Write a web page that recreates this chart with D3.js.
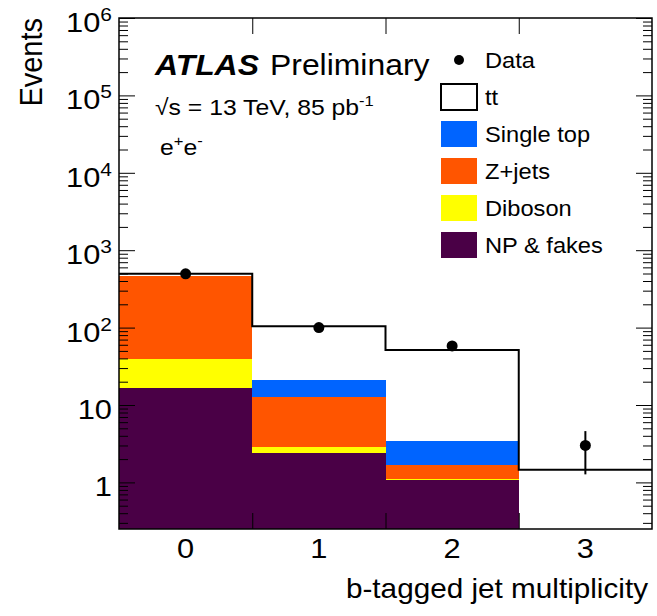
<!DOCTYPE html>
<html>
<head>
<meta charset="utf-8">
<script src="https://cdn.jsdelivr.net/npm/d3@7/dist/d3.min.js"></script>
<style>
  body { margin: 0; background: #fff; }
  text { font-family: "Liberation Sans", Arial, Helvetica, sans-serif; fill: #000; }
</style>
</head>
<body>
<script>
// bins of b-tagged jet multiplicity
var bins = [0, 1, 2, 3];

// data points and their errors
var dataVals = [495, 100, 58, 3];
var dataErrLo = [22, 10, 7.6, 1.73];
var dataErrHi = [22, 10, 7.6, 1.6];

// background stack, bottom to top
var npFakes   = [16.5, 2.4, 1.07, 0.08];
var diboson   = [22.5, 0.47, 0.03, 0.01];
var zjets     = [422, 9.9, 0.57, 0.02];
var singleTop = [1.0, 8.4, 1.72, 0.05];
var ttbar     = [33, 83, 48, 1.3];

var sampleNames = ["NP & fakes", "Diboson", "Z+jets", "Single top", "tt"];
var sampleColors = ["#4a0046", "#ffff00", "#ff5500", "#0064ff", "#ffffff"];

var yMajor = [1, 10, 100, 1000, 10000, 100000, 1000000];

var width = 657, height = 616;
// plot frame edges
var frameL = 119, frameR = 652, frameT = 18, frameB = 529;
var sx = 1.1; // the text in the picture is a bit wide

var svg = d3.select("body").append("svg")
    .attr("width", width)
    .attr("height", height);

var x = d3.scaleLinear().domain([-0.5, 3.5]).range([frameL, frameR]);
var y = d3.scaleLog().domain([0.25, 1e6]).range([frameB, frameT]);

// helper for text with the horizontal stretch
function label(g, px, py, anchor, size) {
  return g.append("text")
    .attr("transform", "translate(" + px + "," + py + ") scale(" + sx + ",1)")
    .attr("text-anchor", anchor)
    .style("font-size", size + "px");
}

svg.append("defs").append("clipPath").attr("id", "plot")
  .append("rect").attr("x", frameL).attr("y", frameT)
  .attr("width", frameR - frameL).attr("height", frameB - frameT);

// stack the samples
var series = [npFakes, diboson, zjets, singleTop, ttbar];
var stacked = [];
var base = bins.map(function(){ return 0; });
series.forEach(function(s, k){
  var layer = bins.map(function(b, i){
    var lo = base[i], hi = base[i] + s[i];
    base[i] = hi;
    return {bin: b, lo: lo, hi: hi};
  });
  stacked.push(layer);
});
var totals = base.slice();

var plot = svg.append("g").attr("clip-path", "url(#plot)");

// filled stack (tt is white, so only the other samples)
stacked.forEach(function(layer, k){
  if (k == 4) return;
  plot.selectAll(".layer" + k)
    .data(layer)
    .enter().append("rect")
    .attr("x", function(d){ return x(d.bin - 0.5); })
    .attr("width", function(d){ return x(d.bin + 0.5) - x(d.bin - 0.5); })
    .attr("y", function(d){ return y(d.hi); })
    .attr("height", function(d){ return Math.max(0, y(Math.max(d.lo, 0.01)) - y(d.hi)); })
    .attr("fill", sampleColors[k])
    .attr("shape-rendering", "crispEdges");
});

// total as a step line
var stepPts = bins.map(function(b, i){ return [b - 0.5, totals[i]]; });
stepPts.push([3.5, totals[3]]);
plot.append("path")
  .attr("d", d3.line().curve(d3.curveStepAfter)
    .x(function(d){ return x(d[0]); })
    .y(function(d){ return y(d[1]); })(stepPts))
  .attr("fill", "none")
  .attr("stroke", "#000")
  .attr("stroke-width", 2);

// minor ticks list
var yMinor = [];
for (var n = -1; n <= 5; n++) {
  for (var k = 2; k <= 9; k++) {
    var v = k * Math.pow(10, n);
    if (v >= 0.25 && v <= 1e6) yMinor.push(v);
  }
}

function clean(g) { g.select(".domain").remove(); g.selectAll("line").attr("stroke", "#000"); }

svg.append("g").attr("transform", "translate(" + frameL + ",0)")
  .call(d3.axisLeft(y).tickValues(yMajor).tickSize(-16).tickFormat(""))
  .call(clean);
svg.append("g").attr("transform", "translate(" + frameL + ",0)")
  .call(d3.axisLeft(y).tickValues(yMinor).tickSize(-9).tickFormat(""))
  .call(clean);
svg.append("g").attr("transform", "translate(" + frameR + ",0)")
  .call(d3.axisRight(y).tickValues(yMajor).tickSize(-16).tickFormat(""))
  .call(clean);
svg.append("g").attr("transform", "translate(" + frameR + ",0)")
  .call(d3.axisRight(y).tickValues(yMinor).tickSize(-9).tickFormat(""))
  .call(clean);
svg.append("g").attr("transform", "translate(0," + frameB + ")")
  .call(d3.axisBottom(x).tickValues([0.5, 1.5, 2.5]).tickSize(-16).tickFormat(""))
  .call(clean);
svg.append("g").attr("transform", "translate(0," + frameT + ")")
  .call(d3.axisTop(x).tickValues([0.5, 1.5, 2.5]).tickSize(-16).tickFormat(""))
  .call(clean);

// frame
svg.append("rect")
  .attr("x", frameL).attr("y", frameT)
  .attr("width", frameR - frameL).attr("height", frameB - frameT)
  .attr("fill", "none").attr("stroke", "#000").attr("stroke-width", 1.5);

// data points
var pts = svg.append("g");
pts.selectAll("line.err")
  .data(bins)
  .enter().append("line")
  .attr("x1", function(d){ return x(d); })
  .attr("x2", function(d){ return x(d); })
  .attr("y1", function(d, i){ return y(dataVals[i] + dataErrHi[i]); })
  .attr("y2", function(d, i){ return y(dataVals[i] - dataErrLo[i]); })
  .attr("stroke", "#000").attr("stroke-width", 2);
pts.selectAll("circle")
  .data(bins)
  .enter().append("circle")
  .attr("cx", function(d){ return x(d); })
  .attr("cy", function(d, i){ return y(dataVals[i]); })
  .attr("r", 5.5)
  .attr("fill", "#000");

// y tick labels
yMajor.forEach(function(v){
  var p = Math.round(Math.log10(v));
  var t = label(svg, 112, y(v) + 14, "end", 28);
  if (p <= 1) {
    t.text(v);
  } else {
    t.append("tspan").text("10");
    t.append("tspan").attr("dy", -11).style("font-size", "19px").text(p);
  }
});

// x tick labels
bins.forEach(function(b){
  label(svg, x(b), 558, "middle", 28).text(b);
});

// axis titles
label(svg, 648, 598, "end", 27).text("b-tagged jet multiplicity");
svg.append("text")
  .attr("transform", "translate(42,18) scale(" + sx + ",1) rotate(-90)")
  .attr("text-anchor", "end")
  .style("font-size", "29px")
  .text("Events");

// ATLAS label
label(svg, 155, 75, "start", 29)
  .style("font-weight", "bold").style("font-style", "italic").text("ATLAS");
label(svg, 270, 75, "start", 29).text("Preliminary");
var lumi = label(svg, 155, 115, "start", 22.5);
lumi.append("tspan").text("\u221As = 13 TeV, 85 pb");
lumi.append("tspan").attr("dy", -9).style("font-size", "15px").text("-1");
var chan = label(svg, 160, 155, "start", 22.5);
chan.append("tspan").text("e");
chan.append("tspan").attr("dy", -9).style("font-size", "15px").text("+");
chan.append("tspan").attr("dy", 9).text("e");
chan.append("tspan").attr("dy", -9).style("font-size", "15px").text("-");

// legend
var legendRows = [{name: "Data", type: "point"}];
for (var j = 4; j >= 0; j--) legendRows.push({name: sampleNames[j], color: sampleColors[j], type: "box"});

var legend = svg.append("g");
legendRows.forEach(function(d, i){
  var cy = 60 + i * 37;
  if (d.type == "point") {
    legend.append("circle").attr("cx", 459).attr("cy", cy).attr("r", 5).attr("fill", "#000");
  } else {
    legend.append("rect")
      .attr("x", 441).attr("y", cy - 13)
      .attr("width", 36).attr("height", 26)
      .attr("fill", d.color)
      .attr("stroke", d.name == "tt" ? "#000" : "none")
      .attr("stroke-width", 2);
  }
  label(legend, 485, cy + 8, "start", 21.5).text(d.name);
});
</script>
</body>
</html>
